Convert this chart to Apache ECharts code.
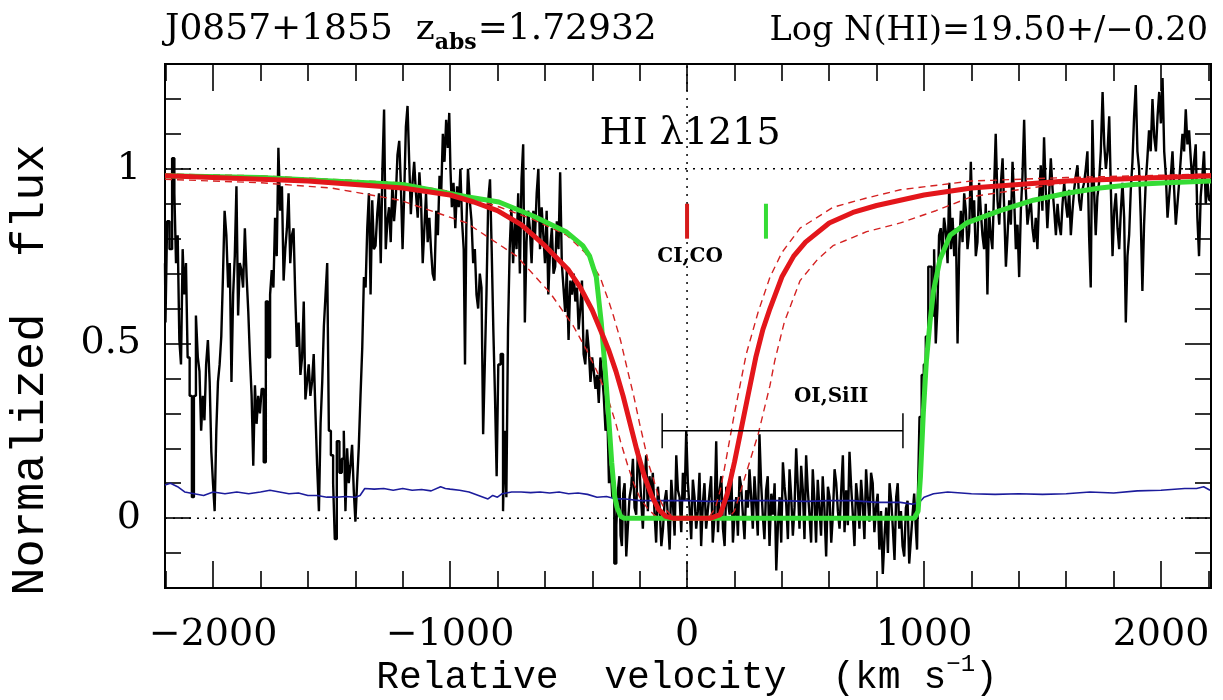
<!DOCTYPE html>
<html>
<head>
<meta charset="utf-8">
<script src="https://cdn.jsdelivr.net/npm/echarts@6/dist/echarts.min.js"></script>
<style>
  html, body { margin: 0; padding: 0; background: #fff; }
  #chart { width: 1223px; height: 700px; }
</style>
</head>
<body>
<div id="chart"></div>
<script>
// --- axis ranges and ticks ---
const X_MIN = -2203, X_MAX = 2211;
const Y_MIN = -0.2, Y_MAX = 1.3;
const xMajor = [-2000, -1000, 0, 1000, 2000];
const xMinor = [-2200, -1800, -1600, -1400, -1200, -800, -600, -400, -200,
                200, 400, 600, 800, 1200, 1400, 1600, 1800, 2200];
const yMajor = [0, 0.5, 1];
const yMinor = [-0.1, 0.1, 0.2, 0.3, 0.4, 0.6, 0.7, 0.8, 0.9, 1.1, 1.2];

// --- observed spectrum (velocity km/s, normalized flux) ---
const spectrum = [
  [-2203,0.73],[-2199,0.56],[-2189,0.85],[-2179,0.77],[-2167,1.03],[-2160,0.93],[-2153,0.73],[-2146,0.81],
  [-2139,0.51],[-2132,0.44],[-2125,0.77],[-2118,0.64],[-2111,0.73],[-2104,0.46],[-2094,0.35],[-2085,0.06],
  [-2077,0.35],[-2068,0.58],[-2061,0.46],[-2054,0.42],[-2047,0.25],[-2040,0.35],[-2033,0.28],[-2026,0.44],
  [-2018,0.51],[-2011,0.39],[-2004,0.19],[-1997,0.10],[-1990,0.02],[-1983,0.25],[-1976,0.39],[-1969,0.44],
  [-1962,0.52],[-1955,0.69],[-1948,0.88],[-1940,0.81],[-1933,0.66],[-1926,0.73],[-1919,0.39],[-1912,0.64],
  [-1905,0.75],[-1898,0.95],[-1891,0.58],[-1884,0.73],[-1877,0.71],[-1870,0.66],[-1862,0.83],[-1855,0.69],
  [-1848,0.59],[-1841,0.46],[-1834,0.35],[-1827,0.15],[-1820,0.38],[-1813,0.27],[-1806,0.35],[-1799,0.30],
  [-1791,0.37],[-1782,0.16],[-1773,0.62],[-1763,0.46],[-1756,0.64],[-1749,0.71],[-1742,0.66],[-1735,0.86],
  [-1728,0.75],[-1721,1.06],[-1713,0.88],[-1706,0.95],[-1699,0.68],[-1692,0.77],[-1685,0.83],[-1678,0.93],
  [-1671,0.73],[-1664,0.81],[-1657,0.83],[-1650,0.64],[-1643,0.49],[-1635,0.56],[-1628,0.41],[-1621,0.46],
  [-1614,0.62],[-1607,0.34],[-1600,0.39],[-1593,0.44],[-1586,0.35],[-1579,0.39],[-1572,0.47],[-1565,0.31],
  [-1557,0.15],[-1550,0.02],[-1543,0.27],[-1536,0.39],[-1529,0.55],[-1522,0.64],[-1515,0.73],[-1508,0.25],
  [-1498,0.18],[-1489,0.10],[-1484,-0.06],[-1472,0.22],[-1462,0.13],[-1452,0.17],[-1445,0.25],[-1438,0.02],
  [-1431,0.20],[-1424,0.10],[-1417,0.15],[-1410,0.21],[-1403,0.08],[-1396,-0.01],[-1389,0.10],[-1382,0.20],
  [-1374,0.35],[-1367,0.49],[-1360,0.69],[-1353,0.66],[-1346,0.83],[-1339,0.93],[-1332,0.64],[-1325,0.91],
  [-1318,0.77],[-1311,0.78],[-1304,0.87],[-1296,0.93],[-1289,0.73],[-1282,1.00],[-1275,1.17],[-1268,0.77],
  [-1261,0.85],[-1254,0.89],[-1247,0.79],[-1240,0.96],[-1233,0.85],[-1226,0.91],[-1218,1.04],[-1211,1.08],
  [-1204,0.95],[-1197,0.77],[-1190,0.93],[-1183,1.12],[-1176,1.18],[-1169,1.02],[-1162,0.87],[-1155,0.96],
  [-1148,1.02],[-1140,0.93],[-1133,0.86],[-1126,0.99],[-1119,0.91],[-1112,0.73],[-1105,0.83],[-1098,0.93],
  [-1091,0.79],[-1084,0.86],[-1077,0.77],[-1070,0.70],[-1062,0.68],[-1055,0.88],[-1048,0.81],[-1041,0.98],
  [-1034,0.93],[-1027,1.10],[-1020,1.02],[-1013,1.14],[-1006,1.06],[-1001,1.16],[-996,1.00],[-989,0.89],
  [-982,0.96],[-974,0.83],[-967,0.95],[-960,0.89],[-953,1.00],[-946,0.85],[-939,0.77],[-935,0.44],
  [-928,0.83],[-921,1.00],[-913,0.91],[-906,0.85],[-899,0.73],[-892,0.77],[-885,0.64],[-878,0.60],
  [-871,0.70],[-864,0.66],[-857,0.24],[-850,0.44],[-843,0.64],[-835,0.91],[-828,0.97],[-821,0.77],
  [-814,0.54],[-807,0.35],[-800,0.12],[-793,0.44],[-780,0.47],[-773,0.02],[-766,0.25],[-759,0.06],
  [-752,0.54],[-745,0.77],[-738,0.89],[-730,0.73],[-723,0.85],[-716,0.77],[-709,0.93],[-702,0.70],
  [-695,0.97],[-688,1.07],[-681,0.56],[-674,0.79],[-667,0.88],[-660,0.83],[-652,0.73],[-645,0.88],
  [-638,0.81],[-631,0.93],[-624,1.00],[-617,0.77],[-610,0.89],[-603,0.81],[-596,0.73],[-589,0.88],
  [-582,0.64],[-574,0.77],[-567,0.83],[-560,0.70],[-553,0.72],[-546,0.85],[-539,0.77],[-532,0.99],
  [-525,0.73],[-518,0.66],[-511,0.59],[-504,0.71],[-496,0.51],[-489,0.68],[-482,0.64],[-475,0.70],
  [-468,0.62],[-461,0.66],[-454,0.54],[-447,0.60],[-440,0.68],[-433,0.47],[-426,0.44],[-418,0.54],
  [-411,0.48],[-404,0.39],[-397,0.46],[-390,0.42],[-383,0.37],[-376,0.41],[-369,0.33],[-362,0.46],
  [-355,0.41],[-348,0.35],[-340,0.25],[-333,0.30],[-326,0.10],[-319,0.15],[-312,0.06],[-302,-0.13],
  [-288,0.08],[-278,-0.05],[-267,0.07],[-253,-0.11],[-239,0.06],[-225,0.17],[-211,0.01],[-197,0.14],
  [-183,-0.03],[-169,0.18],[-155,0.12],[-141,0.13],[-127,-0.07],[-112,0.03],[-98,-0.03],[-84,0.08],
  [-70,-0.09],[-56,0.04],[-42,0.18],[-28,0.06],[-14,0.13],[0,0.25],[14,0.03],[28,0.11],
  [42,-0.03],[56,0.13],[70,0.04],[84,-0.03],[98,0.07],[112,-0.07],[127,0.22],[141,0.08],
  [155,-0.03],[169,0.09],[183,0.01],[197,-0.07],[211,0.06],[225,0.12],[239,0.01],[253,0.08],
  [267,0.14],[281,-0.03],[295,0.04],[309,0.24],[323,0.01],[337,0.08],[352,-0.08],[366,0.01],
  [380,-0.15],[394,0.06],[408,0.16],[422,0.04],[436,0.14],[450,-0.05],[464,0.20],[478,-0.03],
  [492,0.08],[506,0.18],[520,0.01],[534,0.14],[548,-0.07],[562,0.03],[576,0.12],[591,-0.11],
  [605,0.06],[619,0.01],[633,0.10],[647,-0.03],[661,0.18],[675,0.08],[689,0.19],[703,0.01],
  [717,0.10],[731,-0.03],[745,0.04],[759,0.14],[773,-0.01],[787,0.10],[801,0.03],[815,-0.09],
  [830,-0.16],[844,0.03],[858,0.10],[872,-0.03],[886,0.06],[899,-0.03],[913,-0.08],[927,0.03],
  [941,-0.13],[955,0.01],[969,-0.03],[976,0.06],[986,0.29],[994,0.41],[1004,0.44],[1011,0.52],
  [1025,0.72],[1039,0.58],[1046,0.77],[1053,0.50],[1060,0.60],[1067,0.81],[1074,0.83],[1081,0.75],
  [1088,0.86],[1096,0.82],[1103,0.73],[1110,0.96],[1117,0.77],[1124,0.86],[1131,0.75],[1138,0.83],
  [1145,0.50],[1152,0.77],[1159,0.88],[1166,0.79],[1173,0.93],[1180,0.88],[1187,0.77],[1194,0.82],
  [1201,1.02],[1208,0.85],[1215,0.91],[1222,0.75],[1229,0.79],[1236,0.96],[1243,0.88],[1250,0.81],
  [1257,0.77],[1264,0.90],[1271,0.64],[1278,0.88],[1285,0.81],[1292,0.77],[1299,0.94],[1306,1.10],
  [1314,0.91],[1321,0.84],[1328,0.96],[1335,1.03],[1342,0.88],[1349,0.72],[1356,0.81],[1363,0.91],
  [1370,0.84],[1377,1.02],[1384,0.91],[1391,0.77],[1398,0.84],[1405,0.69],[1412,0.88],[1419,0.98],
  [1426,1.14],[1433,0.94],[1440,0.84],[1447,0.88],[1454,0.91],[1461,0.83],[1468,0.79],[1475,0.86],
  [1482,0.77],[1489,0.91],[1496,1.01],[1503,0.88],[1510,1.09],[1517,0.94],[1524,0.83],[1531,0.92],
  [1539,1.03],[1546,0.94],[1553,0.88],[1560,0.81],[1567,0.90],[1574,0.84],[1581,0.81],[1588,0.90],
  [1595,0.96],[1602,0.90],[1609,0.86],[1616,0.94],[1623,0.81],[1630,0.88],[1637,0.94],[1644,0.98],
  [1651,1.01],[1658,0.91],[1665,0.88],[1672,0.94],[1679,0.96],[1686,1.00],[1693,1.05],[1700,0.81],
  [1707,0.66],[1714,1.14],[1721,0.94],[1728,0.81],[1735,0.92],[1742,0.96],[1750,1.05],[1757,1.22],
  [1764,1.07],[1771,1.00],[1778,1.05],[1785,1.15],[1792,0.94],[1799,0.75],[1806,0.88],[1813,0.93],
  [1820,0.83],[1827,0.77],[1834,0.88],[1841,0.96],[1848,0.86],[1855,0.56],[1862,0.75],[1869,0.81],
  [1876,0.94],[1883,1.02],[1890,1.15],[1897,1.24],[1904,1.05],[1911,1.00],[1918,0.86],[1925,0.65],
  [1932,0.84],[1939,0.96],[1946,1.03],[1953,1.11],[1960,1.05],[1968,1.20],[1975,1.09],[1982,1.05],
  [1989,1.15],[1996,1.22],[2003,1.13],[2010,1.26],[2017,1.05],[2024,0.98],[2031,0.86],[2038,0.92],
  [2045,0.98],[2052,1.05],[2059,0.94],[2066,0.84],[2073,0.90],[2080,0.96],[2087,1.03],[2094,1.10],
  [2101,1.05],[2108,1.17],[2115,1.07],[2122,1.11],[2129,1.03],[2136,0.96],[2143,1.02],[2150,1.07],
  [2157,0.86],[2164,0.75],[2171,0.92],[2178,0.98],[2185,1.05],[2193,0.90],[2200,0.96],[2207,0.91]
];

// finer pixels read inside the saturated trough
const spectrumTrough = [
  [-295,-0.02],[-283,0.12],[-272,-0.08],[-260,0.10],[-246,-0.02],[-232,0.09],[-218,0.03],[-204,0.20],
  [-190,0.05],[-176,0.10],[-162,0.02],[-148,0.06],[-134,0.02],[-119,0.09],[-105,-0.08],[-91,0.05],
  [-77,0.00],[-63,0.11],[-49,-0.05],[-35,0.08],[-21,-0.04],[-7,0.05],[7,0.10],[21,-0.06],
  [35,0.06],[49,0.02],[63,-0.08],[77,0.10],[91,0.02],[105,0.12],[119,0.00],[134,-0.04],
  [148,0.12],[162,-0.08],[176,0.05],[190,0.14],[204,0.01],[218,-0.05],[232,0.09],[246,-0.06],
  [260,0.03],[274,0.06],[288,0.12],[302,-0.05],[316,0.10],[330,-0.06],[344,0.12],[359,0.07],
  [373,0.10],[387,-0.02],[401,-0.07],[415,0.09],[429,-0.06],[443,0.06],[457,0.03],[471,0.09],
  [485,0.15],[499,-0.06],[513,0.08],[527,-0.07],[541,0.05],[555,0.11],[569,-0.05],[583,0.03],
  [598,0.09],[612,-0.07],[626,0.14],[640,0.02],[654,0.08],[668,-0.04],[682,-0.02],[696,0.09],
  [710,-0.08],[724,0.05],[738,0.11],[752,-0.06],[766,0.06],[780,0.13],[794,-0.04],[808,0.07],
  [822,0.02],[837,-0.05],[851,-0.10],[865,0.05],[879,-0.12],[892,0.10],[906,0.02],[920,-0.11],
  [934,0.05],[948,-0.06],[962,0.07],[972,-0.09]
];

// --- error spectrum ---
const errorSpec = [
  [-2203,0.095],[-2180,0.10],[-2150,0.09],[-2120,0.075],[-2080,0.07],[-2040,0.065],[-2000,0.075],
  [-1950,0.07],[-1900,0.075],[-1850,0.07],[-1800,0.075],[-1760,0.08],[-1720,0.075],[-1680,0.07],
  [-1640,0.072],[-1600,0.065],[-1560,0.065],[-1520,0.06],[-1480,0.06],[-1440,0.062],[-1400,0.06],
  [-1380,0.065],[-1360,0.085],[-1320,0.083],[-1280,0.085],[-1240,0.08],[-1200,0.085],[-1160,0.08],
  [-1120,0.082],[-1080,0.078],[-1040,0.09],[-1020,0.085],[-1000,0.083],[-960,0.08],[-920,0.075],
  [-880,0.065],[-860,0.06],[-840,0.055],[-820,0.065],[-800,0.06],[-780,0.07],[-740,0.075],[-700,0.075],
  [-660,0.073],[-620,0.075],[-580,0.072],[-540,0.075],[-500,0.07],[-460,0.072],[-420,0.068],[-380,0.06],
  [-340,0.062],[-300,0.055],[-260,0.055],[-200,0.05],[-100,0.05],[0,0.05],[100,0.048],[200,0.05],
  [300,0.05],[400,0.05],[500,0.048],[600,0.05],[700,0.05],[800,0.045],[900,0.045],[950,0.04],
  [980,0.045],[1000,0.06],[1040,0.07],[1100,0.075],[1200,0.07],[1300,0.068],[1400,0.07],[1500,0.068],
  [1600,0.07],[1700,0.075],[1800,0.072],[1900,0.078],[2000,0.08],[2100,0.085],[2150,0.085],[2180,0.09],
  [2207,0.08]
];

// --- HI fit (red) and its error envelope (dashed) ---
const fitRed = [
  [-2203,0.98],[-2000,0.975],[-1800,0.97],[-1600,0.965],[-1400,0.955],[-1200,0.945],[-1000,0.925],
  [-900,0.905],[-800,0.88],[-700,0.84],[-600,0.78],[-500,0.71],[-450,0.66],[-400,0.595],[-360,0.53],
  [-330,0.48],[-300,0.42],[-270,0.35],[-240,0.27],[-210,0.19],[-180,0.12],[-150,0.065],[-120,0.025],
  [-90,0.005],[-60,0],[100,0],[140,0.01],[170,0.07],[200,0.16],[230,0.26],[260,0.36],[290,0.46],
  [320,0.54],[350,0.6],[400,0.69],[450,0.75],[500,0.79],[600,0.845],[700,0.875],[800,0.895],
  [900,0.91],[1000,0.925],[1200,0.945],[1400,0.955],[1600,0.965],[1800,0.97],[2000,0.975],[2211,0.98]
];
const fitInner = [
  [-2203,0.985],[-1800,0.98],[-1500,0.97],[-1211,0.96],[-1000,0.935],[-789,0.89],[-650,0.855],
  [-508,0.81],[-430,0.76],[-367,0.69],[-330,0.62],[-311,0.58],[-281,0.51],[-250,0.42],[-225,0.35],
  [-200,0.27],[-183,0.22],[-160,0.15],[-141,0.11],[-120,0.06],[-98,0.03],[-56,0],[90,0],[120,0.03],
  [140,0.08],[160,0.15],[200,0.30],[250,0.47],[300,0.59],[350,0.69],[400,0.76],[477,0.83],[616,0.89],
  [750,0.915],[900,0.94],[1200,0.965],[1600,0.975],[2211,0.985]
];
const fitOuter = [
  [-2203,0.97],[-1800,0.96],[-1500,0.945],[-1211,0.91],[-930,0.845],[-719,0.75],[-578,0.645],
  [-480,0.55],[-423,0.48],[-380,0.42],[-337,0.35],[-300,0.27],[-281,0.22],[-250,0.15],[-225,0.10],
  [-200,0.06],[-169,0.03],[-140,0.01],[-120,0],[160,0],[180,0.005],[200,0.02],[250,0.13],[300,0.24],
  [350,0.38],[370,0.45],[410,0.56],[477,0.68],[550,0.74],[616,0.78],[758,0.82],[900,0.845],
  [1050,0.88],[1200,0.92],[1400,0.94],[1600,0.96],[1900,0.97],[2211,0.975]
];

// --- alternative fit (green) ---
const fitGreen = [
  [-2203,0.98],[-1800,0.975],[-1500,0.965],[-1200,0.955],[-930,0.92],[-794,0.905],[-649,0.865],
  [-511,0.82],[-440,0.78],[-411,0.75],[-383,0.69],[-362,0.56],[-345,0.42],[-330,0.28],[-318,0.16],
  [-305,0.06],[-295,0.03],[-280,0.005],[-267,0],[960,0],[975,0.02],[985,0.12],[997,0.30],[1010,0.45],
  [1025,0.56],[1040,0.65],[1067,0.74],[1110,0.81],[1180,0.845],[1321,0.88],[1461,0.91],[1602,0.93],
  [1742,0.945],[1883,0.955],[2024,0.96],[2211,0.965]
];

// --- component markers and labels ---
const markerRed = [[0, 0.80], [0, 0.90]];
const markerGreen = [[333, 0.80], [333, 0.90]];
const metalRange = [[-105, 0.2], [-105, 0.3], [-105, 0.25], [911, 0.25], [911, 0.3], [911, 0.2]];
const annotations = [
  { value: [13, 1.10], text: 'HI \u03bb1215', font: '38px "DejaVu Serif"' },
  { value: [13, 0.749], text: 'CI,CO', font: 'bold 20px "DejaVu Serif"' },
  { value: [608, 0.347], text: 'OI,SiII', font: 'bold 20px "DejaVu Serif"' }
];

const SERIF = 'DejaVu Serif';
const MONO = 'Liberation Mono';

const chart = echarts.init(document.getElementById('chart'));

function xAxisDef(pos, ticks, len, labels) {
  return {
    type: 'value', position: pos, min: X_MIN, max: X_MAX,
    axisLine: { show: true, onZero: false, lineStyle: { color: '#000', width: 2 } },
    axisTick: { show: true, inside: true, length: len, customValues: ticks, lineStyle: { color: '#000', width: 1.6 } },
    axisLabel: labels ? {
      show: true, customValues: ticks, margin: 28, color: '#000',
      fontFamily: SERIF, fontSize: 38,
      formatter: v => (v < 0 ? '\u2212' + Math.abs(v) : String(v))
    } : { show: false },
    splitLine: { show: false }
  };
}
function yAxisDef(pos, ticks, len, labels) {
  return {
    type: 'value', position: pos, min: Y_MIN, max: Y_MAX,
    axisLine: { show: true, onZero: false, lineStyle: { color: '#000', width: 2 } },
    axisTick: { show: true, inside: true, length: len, customValues: ticks, lineStyle: { color: '#000', width: 1.6 } },
    axisLabel: labels ? {
      show: true, customValues: ticks, margin: 24, color: '#000',
      fontFamily: SERIF, fontSize: 38,
      formatter: v => String(v)
    } : { show: false },
    splitLine: { show: false }
  };
}

const thinLine = (name, data, color, width, type, z) => ({
  name, type: 'line', data, showSymbol: false, symbol: 'none', silent: true, z,
  lineStyle: { color, width, type }
});

// text width helper for the title with a subscript
const measure = (() => {
  const ctx = document.createElement('canvas').getContext('2d');
  return (txt, font) => { ctx.font = font; return ctx.measureText(txt).width; };
})();

const fullSpectrum = spectrum.concat(spectrumTrough).sort((a, b) => a[0] - b[0]);

const option = {
  animation: false,
  backgroundColor: '#fff',
  grid: { left: 165, right: 12, top: 64, bottom: 112 },
  xAxis: [
    xAxisDef('bottom', xMajor, 27, true),
    xAxisDef('bottom', xMinor, 17, false),
    xAxisDef('top', xMajor, 27, false),
    xAxisDef('top', xMinor, 17, false)
  ],
  yAxis: [
    yAxisDef('left', yMajor, 26, true),
    yAxisDef('left', yMinor, 16, false),
    yAxisDef('right', yMajor, 26, false),
    yAxisDef('right', yMinor, 16, false)
  ],
  series: [
    thinLine('flux1', [[X_MIN, 1], [X_MAX, 1]], '#000', 1.5, [2, 6], 1),
    thinLine('flux0', [[X_MIN, 0], [X_MAX, 0]], '#000', 1.5, [2, 6], 1),
    thinLine('v0', [[0, Y_MIN], [0, Y_MAX]], '#000', 1.5, [2, 6], 1),
    {
      name: 'spectrum', type: 'line', data: fullSpectrum, step: 'middle',
      showSymbol: false, symbol: 'none', silent: true, z: 2,
      lineStyle: { color: '#000', width: 2.4 }
    },
    thinLine('error', errorSpec, '#1c1c9c', 1.6, 'solid', 3),
    thinLine('fitInner', fitInner, '#d42222', 1.4, [7, 5], 4),
    thinLine('fitOuter', fitOuter, '#d42222', 1.4, [7, 5], 4),
    thinLine('fitGreen', fitGreen, '#35dc35', 5, 'solid', 5),
    thinLine('fitRed', fitRed, '#e3161b', 5, 'solid', 6),
    thinLine('markRed', markerRed, '#d61a1a', 4, 'solid', 7),
    thinLine('markGreen', markerGreen, '#35dc35', 4, 'solid', 7),
    thinLine('metals', metalRange, '#000', 1.5, 'solid', 7)
  ]
};

chart.setOption(option);

// title pieces laid out by measured widths
const fMain = '36px "DejaVu Serif"';
const fSub = 'bold 22px "DejaVu Serif"';
const t1 = 'J0857+1855  z', t2 = 'abs', t3 = '=1.72932';
const x1 = 165, x2 = x1 + measure(t1, fMain), x3 = x2 + measure(t2, fSub) + 1;

const graphics = [
  { type: 'text', x: x1, y: 48, silent: true, style: { text: t1, font: fMain, fill: '#000', verticalAlign: 'bottom' } },
  { type: 'text', x: x2, y: 54, silent: true, style: { text: t2, font: fSub, fill: '#000', verticalAlign: 'bottom' } },
  { type: 'text', x: x3, y: 48, silent: true, style: { text: t3, font: fMain, fill: '#000', verticalAlign: 'bottom' } },
  {
    type: 'text', x: 1208, y: 48, silent: true,
    style: { text: 'Log N(HI)=19.50+/\u22120.20', font: '33.5px "DejaVu Serif"', fill: '#000', align: 'right', verticalAlign: 'bottom' }
  },
  {
    type: 'text', x: 31, y: 370, rotation: Math.PI / 2, silent: true,
    style: { text: 'Normalized  flux', font: '47px "Liberation Mono"', fill: '#000', align: 'center', verticalAlign: 'middle' }
  },
  {
    type: 'text', x: 687, y: 675, silent: true,
    style: {
      text: '{a|Relative  velocity  (km s}{b|\u22121}{a|)}',
      align: 'center', verticalAlign: 'middle',
      rich: {
        a: { fontFamily: MONO, fontSize: 38, fill: '#000', lineHeight: 44, verticalAlign: 'bottom' },
        b: { fontFamily: MONO, fontSize: 24, fill: '#000', lineHeight: 44, verticalAlign: 'top' }
      }
    }
  }
];

// in-plot labels placed through the axes' own scale
annotations.forEach(a => {
  const p = chart.convertToPixel({ xAxisIndex: 0, yAxisIndex: 0 }, a.value);
  graphics.push({
    type: 'text', x: p[0], y: p[1], silent: true, z: 100,
    style: { text: a.text, font: a.font, fill: '#000', align: 'center', verticalAlign: 'middle' }
  });
});

chart.setOption({ graphic: graphics });
window.addEventListener('resize', () => chart.resize());
</script>
</body>
</html>
